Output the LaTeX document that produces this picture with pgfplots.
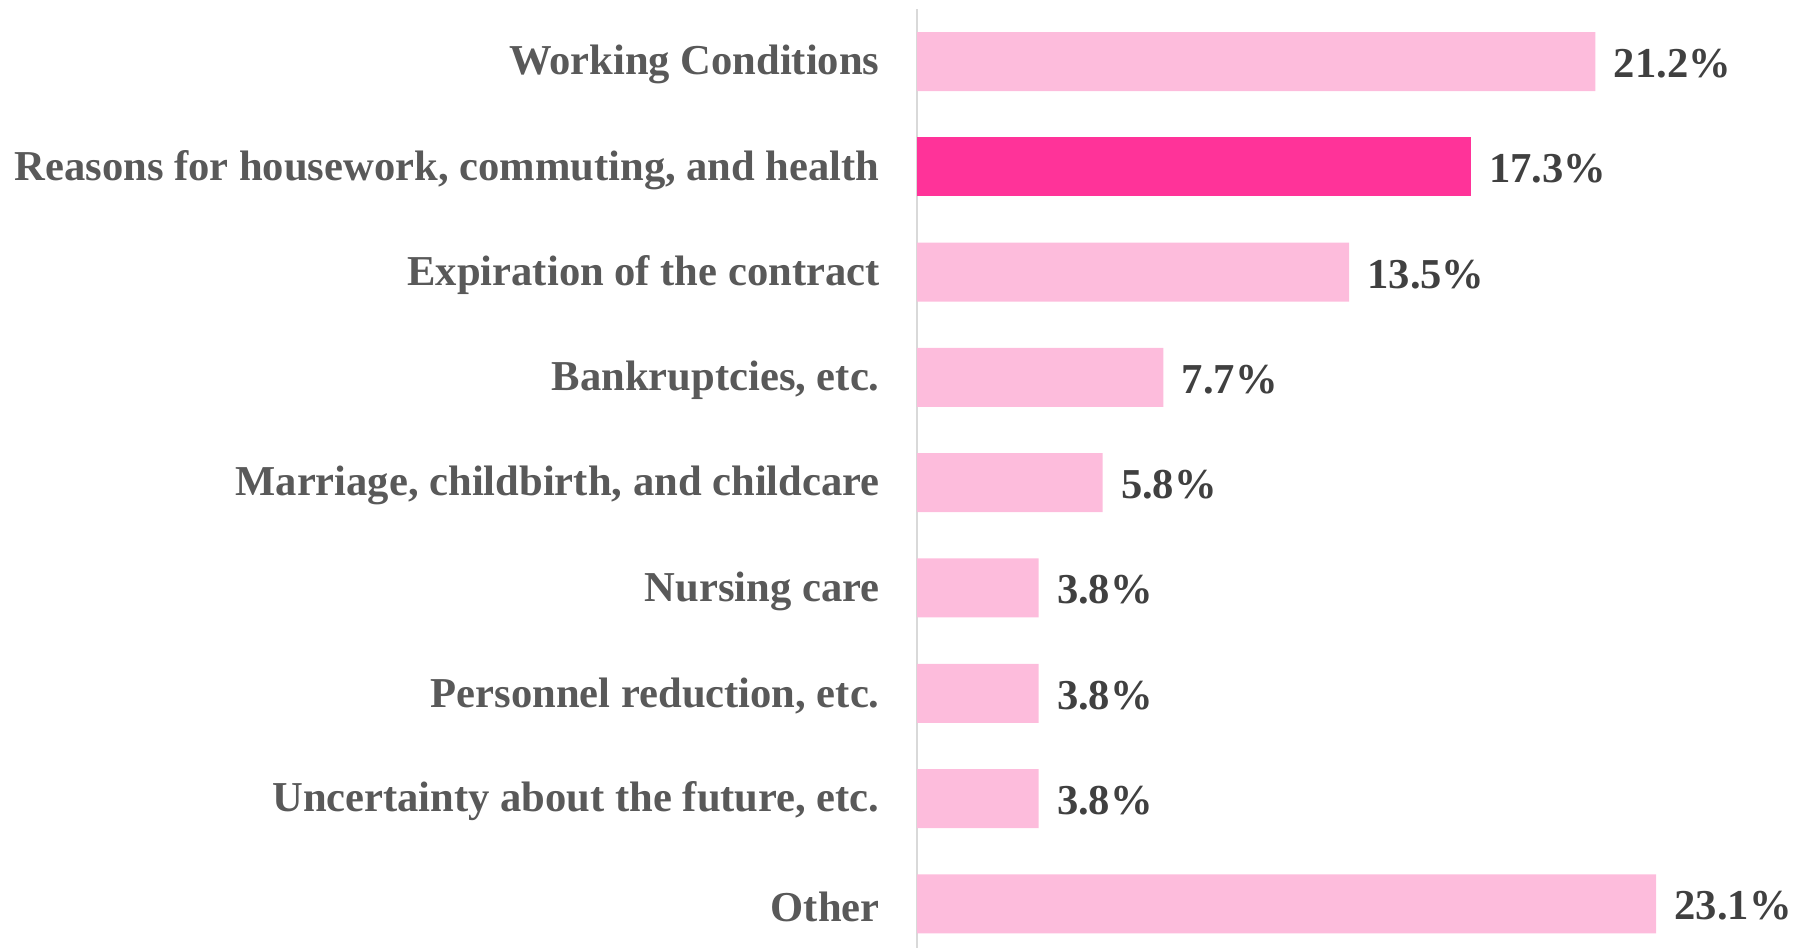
\documentclass[border=0pt]{standalone}
\usepackage{pgfplots}
\pgfplotsset{compat=1.18}
\usepackage{fontspec}
\setmainfont{Liberation Serif}
\definecolor{lightpink}{HTML}{FDBCDC}
\definecolor{hotpink}{HTML}{FF3399}
\definecolor{labelgray}{HTML}{595959}
\definecolor{valgray}{HTML}{404040}
\begin{document}
\begin{tikzpicture}
\path[use as bounding box] (0,0) rectangle (899pt,474pt);
\begin{axis}[
 at={(458.5pt,0pt)}, anchor=south west,
 scale only axis, width=400pt, height=469.5pt,
 xmin=0, xmax=25, ymin=-0.5, ymax=8.42, y dir=reverse,
 xbar, bar width=29.5pt, bar shift=0pt,
 axis x line=none, axis y line=left,
 y axis line style={draw=black!15, line width=1pt, -},
 ytick={0,...,8},
 yticklabels={Working Conditions, {Reasons for housework, commuting, and health}, Expiration of the contract, {Bankruptcies, etc.}, {Marriage, childbirth, and childcare}, Nursing care, {Personnel reduction, etc.}, {Uncertainty about the future, etc.}, Other},
 major tick length=0pt,
 yticklabel style={font=\fontsize{21.3}{25}\selectfont\bfseries, text=labelgray, inner sep=0pt, xshift=-18.5pt, yshift=-1.5pt},
 point meta=x,
 nodes near coords={\pgfmathprintnumber[fixed,fixed zerofill,precision=1]{\pgfplotspointmeta}\%},
 nodes near coords style={font=\fontsize{21.3}{25}\selectfont\bfseries, text=valgray, anchor=west, inner sep=0pt, xshift=9pt, yshift=-1pt, /pgf/number format/assume math mode=true},
 clip=false,
]
\addplot[fill=lightpink, draw=none] coordinates {(21.2,0) (13.5,2) (7.7,3) (5.8,4) (3.8,5) (3.8,6) (3.8,7) (23.1,8)};
\addplot[fill=hotpink, draw=none] coordinates {(17.3,1)};
\end{axis}
\end{tikzpicture}
\end{document}
